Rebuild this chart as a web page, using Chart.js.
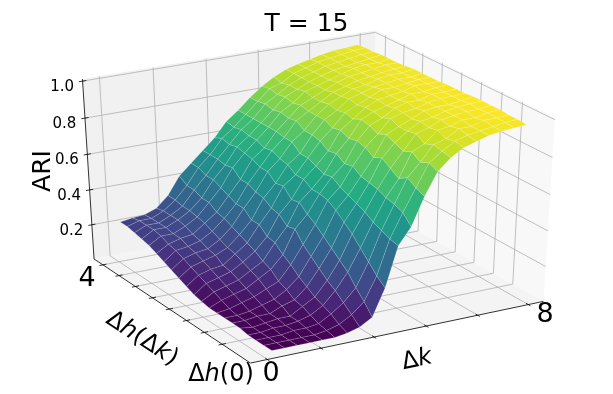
<!DOCTYPE html>
<html>
<head>
<meta charset="utf-8">
<style>
  html, body { margin: 0; padding: 0; background: #fff; }
  canvas { display: block; }
</style>
<script src="https://cdn.jsdelivr.net/npm/chart.js@4"></script>
</head>
<body>
<canvas id="chart" width="613" height="394"></canvas>
<script>
const kValues = [0, 0.4, 0.8, 1.2, 1.6, 2, 2.4, 2.8, 3.2, 3.6, 4, 4.4, 4.8, 5.2, 5.6, 6, 6.4, 6.8, 7.2, 7.6, 8];
const hValues = [0, 0.2, 0.4, 0.6, 0.8, 1, 1.2, 1.4, 1.6, 1.8, 2, 2.2, 2.4, 2.6, 2.8, 3, 3.2, 3.4, 3.6, 3.8, 4];

// one row per hValue, one column per kValue
const ari = [
  [.02, .02, .02, .02, .02, .02, .03, .05, .09, .24, .46, .55, .70, .82, .88, .92, .94, .96, .97, .975, .98],
  [.02, .02, .02, .02, .02, .03, .05, .09, .15, .28, .47, .60, .72, .84, .89, .93, .95, .96, .97, .98, .985],
  [.02, .02, .02, .03, .03, .04, .08, .13, .20, .33, .49, .62, .75, .82, .90, .92, .96, .96, .98, .98, .985],
  [.02, .02, .03, .03, .04, .06, .10, .17, .26, .38, .51, .63, .72, .85, .88, .94, .95, .97, .97, .985, .99],
  [.03, .02, .03, .04, .04, .08, .12, .20, .30, .43, .54, .65, .75, .83, .91, .93, .96, .97, .98, .98, .99],
  [.03, .03, .04, .04, .07, .09, .15, .24, .34, .47, .56, .66, .78, .85, .90, .94, .95, .97, .98, .985, .99],
  [.03, .03, .04, .06, .08, .12, .18, .28, .38, .51, .58, .67, .76, .87, .90, .93, .96, .97, .97, .98, .99],
  [.03, .04, .06, .08, .11, .14, .22, .32, .42, .54, .60, .70, .79, .85, .92, .94, .95, .97, .98, .98, .985],
  [.03, .06, .08, .10, .14, .18, .25, .38, .45, .55, .63, .69, .80, .87, .90, .94, .96, .96, .98, .98, .985],
  [.04, .08, .10, .12, .16, .20, .29, .37, .49, .55, .62, .72, .79, .88, .91, .93, .95, .97, .97, .98, .985],
  [.05, .10, .12, .14, .18, .23, .30, .41, .48, .58, .64, .71, .81, .86, .91, .94, .95, .96, .98, .98, .98],
  [.07, .12, .14, .15, .20, .25, .34, .42, .53, .58, .66, .74, .80, .87, .90, .93, .96, .96, .97, .98, .98],
  [.09, .14, .16, .18, .21, .27, .34, .45, .52, .61, .66, .75, .82, .86, .91, .93, .95, .96, .97, .97, .98],
  [.11, .16, .18, .19, .23, .29, .38, .46, .56, .62, .70, .75, .82, .87, .90, .93, .94, .96, .97, .97, .98],
  [.13, .18, .19, .21, .25, .31, .38, .48, .56, .64, .70, .78, .82, .86, .90, .92, .94, .95, .96, .97, .975],
  [.15, .19, .21, .22, .27, .32, .40, .48, .58, .63, .71, .77, .83, .86, .89, .92, .94, .95, .96, .97, .97],
  [.17, .21, .21, .24, .28, .35, .42, .52, .59, .65, .71, .78, .82, .87, .89, .91, .93, .95, .96, .96, .97],
  [.18, .22, .22, .25, .29, .35, .44, .51, .60, .65, .71, .77, .83, .86, .89, .91, .93, .94, .95, .96, .97],
  [.19, .22, .22, .25, .29, .37, .44, .52, .59, .66, .71, .78, .82, .86, .89, .91, .93, .94, .95, .96, .965],
  [.20, .22, .22, .25, .30, .37, .46, .52, .60, .65, .71, .77, .83, .85, .89, .91, .93, .94, .95, .96, .965],
  [.20, .21, .215, .24, .30, .40, .46, .52, .58, .66, .71, .77, .82, .86, .89, .91, .925, .94, .95, .955, .96],
];

const kTicks = [-0.3, 1.4, 3.1, 4.8, 6.5, 8.2];
const hTicks = [0.59, 1.05, 1.52, 1.98, 2.44, 2.91, 3.37, 3.83];
const zTicks = [0.2, 0.4, 0.6, 0.8, 1];
const zTickLabels = ['0.2', '0.4', '0.6', '0.8', '1.0'];

const kLim = [-0.83, 8.716];
const hLim = [-0.126, 4.084];
const zLim = [0, 1.011];

// box corners (k, h, z as 0..1) and where they land in the picture
const boxCorners = [
  [0, 0, 0, 250, 362],
  [1, 0, 0, 543, 302],
  [0, 1, 0, 94, 261],
  [1, 1, 0, 374, 204],
  [0, 1, 1, 83, 78],
  [1, 1, 1, 374, 31],
  [1, 0, 1, 556, 118],
];

const viridis = ['#440154', '#482475', '#414487', '#355f8d', '#2a788e', '#21918c', '#22a884', '#44bf70', '#7ad151', '#bddf26', '#fde725'];

// least squares fit of a 3x4 camera matrix to the corners
function fitCamera() {
  const rows = [], rhs = [];
  boxCorners.forEach(([u, v, w, x, y]) => {
    rows.push([u, v, w, 1, 0, 0, 0, 0, -x * u, -x * v, -x * w]); rhs.push(x);
    rows.push([0, 0, 0, 0, u, v, w, 1, -y * u, -y * v, -y * w]); rhs.push(y);
  });
  const n = 11;
  const m = [];
  for (let i = 0; i < n; i++) {
    m.push([]);
    for (let j = 0; j <= n; j++) {
      let s = 0;
      rows.forEach((r, t) => { s += r[i] * (j === n ? rhs[t] : r[j]); });
      m[i].push(s);
    }
  }
  for (let i = 0; i < n; i++) {
    let best = i;
    for (let r = i + 1; r < n; r++) if (Math.abs(m[r][i]) > Math.abs(m[best][i])) best = r;
    [m[i], m[best]] = [m[best], m[i]];
    for (let r = 0; r < n; r++) {
      if (r === i) continue;
      const f = m[r][i] / m[i][i];
      for (let c = i; c <= n; c++) m[r][c] -= f * m[i][c];
    }
  }
  return m.map((r, i) => r[n] / r[i]);
}
const cam = fitCamera();

function projectBox(u, v, w) {
  const d = cam[8] * u + cam[9] * v + cam[10] * w + 1;
  return {
    x: (cam[0] * u + cam[1] * v + cam[2] * w + cam[3]) / d,
    y: (cam[4] * u + cam[5] * v + cam[6] * w + cam[7]) / d,
  };
}

const toU = k => (k - kLim[0]) / (kLim[1] - kLim[0]);
const toV = h => (h - hLim[0]) / (hLim[1] - hLim[0]);
const toW = z => (z - zLim[0]) / (zLim[1] - zLim[0]);
const project = (k, h, z) => projectBox(toU(k), toV(h), toW(z));

function viridisColor(t) {
  const pos = Math.max(0, Math.min(1, t)) * (viridis.length - 1);
  const i = Math.min(Math.floor(pos), viridis.length - 2);
  const f = pos - i;
  const a = parseInt(viridis[i].slice(1), 16), b = parseInt(viridis[i + 1].slice(1), 16);
  const mix = s => Math.round(((a >> s) & 255) * (1 - f) + ((b >> s) & 255) * f);
  return `rgb(${mix(16)},${mix(8)},${mix(0)})`;
}

function lineSet(points, color, width) {
  return { data: points, showLine: true, fill: false, borderColor: color, borderWidth: width, pointRadius: 0 };
}

function polySet(points, color) {
  return { data: points, showLine: true, fill: 'shape', backgroundColor: color, borderWidth: 0, borderColor: 'transparent', pointRadius: 0 };
}

function buildDatasets() {
  const sets = [];
  const flat = ari.flat();
  const zMin = Math.min(...flat), zMax = Math.max(...flat);

  // first dataset is painted last: nearest cells go first
  for (let i = 0; i < hValues.length - 1; i++) {
    for (let j = 0; j < kValues.length - 1; j++) {
      const mean = (ari[i][j] + ari[i][j + 1] + ari[i + 1][j] + ari[i + 1][j + 1]) / 4;
      const a = project(kValues[j], hValues[i], ari[i][j]);
      const cell = polySet([
        a,
        project(kValues[j + 1], hValues[i], ari[i][j + 1]),
        project(kValues[j + 1], hValues[i + 1], ari[i + 1][j + 1]),
        project(kValues[j], hValues[i + 1], ari[i + 1][j]),
        a,
      ], viridisColor((mean - zMin) / (zMax - zMin)));
      // the light seams between facets
      cell.borderColor = 'rgba(255,255,255,0.25)';
      cell.borderWidth = 0.6;
      sets.push(cell);
    }
  }

  // axis lines and ticks
  sets.push(lineSet([projectBox(0, 0, 0), projectBox(1, 0, 0)], '#000', 0.8));
  sets.push(lineSet([projectBox(0, 0, 0), projectBox(0, 1, 0)], '#000', 0.8));
  sets.push(lineSet([projectBox(0, 1, 0), projectBox(0, 1, 1)], '#000', 0.8));
  kTicks.forEach(k => sets.push(lineSet([projectBox(toU(k), -0.012, 0), projectBox(toU(k), 0.012, 0)], '#000', 0.8)));
  hTicks.forEach(h => sets.push(lineSet([projectBox(-0.012, toV(h), 0), projectBox(0.012, toV(h), 0)], '#000', 0.8)));
  zTicks.forEach(z => sets.push(lineSet([projectBox(-0.012, 1, toW(z)), projectBox(0.012, 1, toW(z))], '#000', 0.8)));

  // grid on the three back panes
  const grid = '#b0b0b0';
  kTicks.forEach(k => {
    sets.push(lineSet([projectBox(toU(k), 0, 0), projectBox(toU(k), 1, 0)], grid, 0.8));
    sets.push(lineSet([projectBox(toU(k), 1, 0), projectBox(toU(k), 1, 1)], grid, 0.8));
  });
  hTicks.forEach(h => {
    sets.push(lineSet([projectBox(0, toV(h), 0), projectBox(1, toV(h), 0)], grid, 0.8));
    sets.push(lineSet([projectBox(1, toV(h), 0), projectBox(1, toV(h), 1)], grid, 0.8));
  });
  zTicks.forEach(z => {
    sets.push(lineSet([projectBox(0, 1, toW(z)), projectBox(1, 1, toW(z))], grid, 0.8));
    sets.push(lineSet([projectBox(1, 1, toW(z)), projectBox(1, 0, toW(z))], grid, 0.8));
  });

  // panes
  sets.push(polySet([projectBox(0, 0, 0), projectBox(1, 0, 0), projectBox(1, 1, 0), projectBox(0, 1, 0)], '#f4f4f4'));
  sets.push(polySet([projectBox(0, 1, 0), projectBox(1, 1, 0), projectBox(1, 1, 1), projectBox(0, 1, 1)], '#f1f1f1'));
  sets.push(polySet([projectBox(1, 1, 0), projectBox(1, 0, 0), projectBox(1, 0, 1), projectBox(1, 1, 1)], '#f8f8f8'));
  return sets;
}

const UP = '24px "DejaVu Sans"';
const IT = 'italic 24px "DejaVu Sans"';
const BIG = '27px "DejaVu Sans"';

function drawRuns(ctx, runs, cx, cy, deg) {
  ctx.save();
  ctx.translate(cx, cy);
  ctx.rotate(deg * Math.PI / 180);
  ctx.textBaseline = 'middle';
  ctx.textAlign = 'left';
  ctx.fillStyle = '#000';
  let total = 0;
  runs.forEach(([text, font]) => { ctx.font = font; total += ctx.measureText(text).width; });
  let x = -total / 2;
  runs.forEach(([text, font]) => {
    ctx.font = font;
    ctx.fillText(text, x, 0);
    x += ctx.measureText(text).width;
  });
  ctx.restore();
}

const labelPlugin = {
  id: 'labels',
  afterDraw(chart) {
    const ctx = chart.ctx;
    drawRuns(ctx, [['T = 15', '25px "DejaVu Sans"']], 306.5, 24, 0);
    drawRuns(ctx, [['ARI', '25px "DejaVu Sans"']], 43, 171, -90);
    drawRuns(ctx, [['4', BIG]], 87, 279, 0);
    drawRuns(ctx, [['0', BIG]], 271, 374, 0);
    drawRuns(ctx, [['8', BIG]], 545, 315, 0);
    drawRuns(ctx, [['Δ', UP], ['h', IT], ['(0)', UP]], 221, 375, 0);
    drawRuns(ctx, [['Δ', UP], ['h', IT], ['(Δ', UP], ['k', IT], [')', UP]], 142, 339, 33);
    drawRuns(ctx, [['Δ', UP], ['k', IT]], 417, 360, -12);
    zTicks.forEach((z, i) => {
      const p = projectBox(0, 1, toW(z));
      drawRuns(ctx, [[zTickLabels[i], '15px "DejaVu Sans"']], p.x - 20.5, p.y + 6, 0);
    });
  },
};

new Chart(document.getElementById('chart'), {
  type: 'scatter',
  data: { datasets: buildDatasets() },
  options: {
    responsive: false,
    animation: false,
    parsing: false,
    normalized: false,
    events: [],
    layout: { padding: 0 },
    elements: { line: { tension: 0 } },
    plugins: { legend: { display: false }, title: { display: false }, tooltip: { enabled: false } },
    scales: {
      x: { type: 'linear', display: false, min: 0, max: 613 },
      y: { type: 'linear', display: false, min: 0, max: 394, reverse: true },
    },
  },
  plugins: [labelPlugin],
});
</script>
</body>
</html>
